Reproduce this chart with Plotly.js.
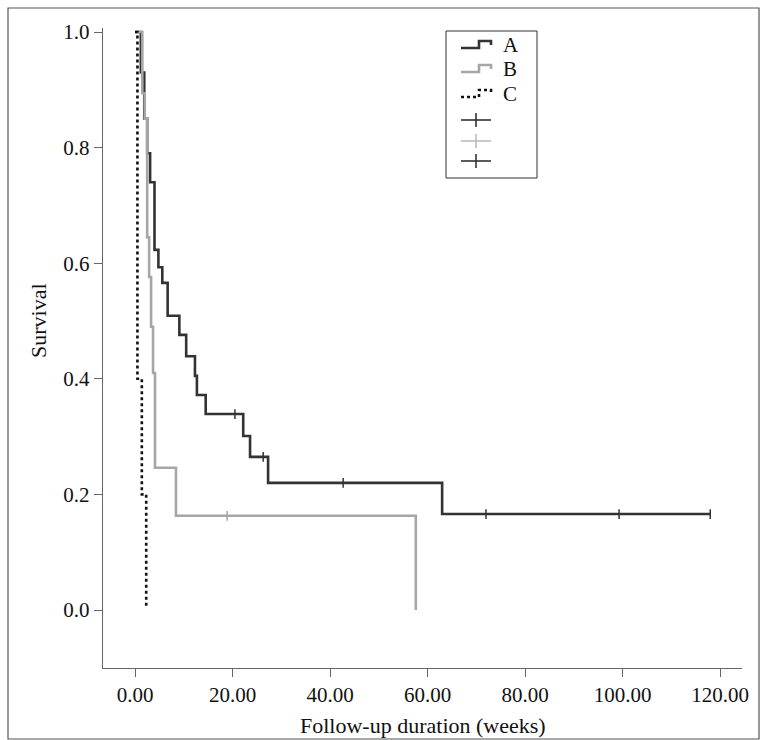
<!DOCTYPE html>
<html>
<head>
<meta charset="utf-8">
<script src="https://cdn.plot.ly/plotly-3.0.1.min.js"></script>
<style>
  html, body { margin: 0; padding: 0; background: #fff; }
  #chart { width: 766px; height: 740px; }
</style>
</head>
<body>
<div id="chart"></div>
<script>
// ---- Data ----
const weeksA = [0, 1.2, 1.9, 2.5, 3.1, 4.0, 4.8, 5.6, 6.7, 9.1, 10.5, 12.3, 12.7, 14.5, 22.2, 23.6, 27.3, 63.0, 118.0];
const survA  = [1.0, 0.93, 0.85, 0.79, 0.74, 0.623, 0.593, 0.566, 0.509, 0.476, 0.439, 0.405, 0.372, 0.339, 0.301, 0.265, 0.220, 0.166, 0.166];

const weeksB = [0, 1.5, 2.0, 2.5, 2.9, 3.3, 3.7, 4.1, 8.4, 57.6];
const survB  = [1.0, 0.894, 0.85, 0.645, 0.576, 0.49, 0.41, 0.246, 0.163, 0.0];

const weeksC = [0, 0.5, 1.4, 2.3];
const survC  = [1.0, 0.4, 0.2, 0.005];

const censorWeeksA = [20.5, 26.3, 42.7, 72.0, 99.3, 118.0];
const censorSurvA  = [0.339, 0.265, 0.220, 0.166, 0.166, 0.166];
const censorWeeksB = [18.9];
const censorSurvB  = [0.163];

const xTickVals = [0, 20, 40, 60, 80, 100, 120];
const xTickText = ["0.00", "20.00", "40.00", "60.00", "80.00", "100.00", "120.00"];
const yTickVals = [0, 0.2, 0.4, 0.6, 0.8, 1.0];
const yTickText = ["0.0", "0.2", "0.4", "0.6", "0.8", "1.0"];
const groupNames = ["A", "B", "C"];
const xTitle = "Follow-up duration (weeks)";
const yTitle = "Survival";

// ---- Styles ----
const colA = "#333333", colB = "#a6a6a6", colC = "#111111";
const FONT = "Liberation Serif, Times New Roman, serif";
const AX = "#666666";

const traces = [
  { x: weeksA, y: survA, mode: "lines", line: { shape: "hv", color: colA, width: 2.6 }, showlegend: false, hoverinfo: "skip" },
  { x: weeksB, y: survB, mode: "lines", line: { shape: "hv", color: colB, width: 2.6 }, showlegend: false, hoverinfo: "skip" },
  { x: weeksC, y: survC, mode: "lines", line: { shape: "hv", color: colC, width: 2.6, dash: "dot" }, showlegend: false, hoverinfo: "skip" },
  { x: censorWeeksA, y: censorSurvA, mode: "markers", marker: { symbol: "line-ns-open", size: 7, color: colA, line: { color: colA, width: 1.5 } }, showlegend: false, hoverinfo: "skip" },
  { x: censorWeeksB, y: censorSurvB, mode: "markers", marker: { symbol: "line-ns-open", size: 7, color: colB, line: { color: colB, width: 1.5 } }, showlegend: false, hoverinfo: "skip" }
];

// plot area in pixels
const L = 103, R = 742, T = 28, B = 668, W = 766, H = 740;
const px = x => (x - L) / (R - L);
const py = y => (B - y) / (B - T);

// ---- custom legend (drawn in paper coordinates) ----
const shapes = [];
shapes.push({ type: "rect", xref: "paper", yref: "paper", x0: px(8), x1: px(759), y0: py(739), y1: py(8), line: { color: "#555", width: 1.2 } });
shapes.push({ type: "rect", xref: "paper", yref: "paper", x0: px(446), x1: px(537), y0: py(178), y1: py(31), line: { color: "#333", width: 1 }, fillcolor: "rgba(0,0,0,0)" });

function stepPath(yc) {
  const a = px(461), b = px(479), c = px(491);
  const lo = py(yc + 3), hi = py(yc - 4), end = py(yc + 0);
  return `M ${a} ${lo} L ${b} ${lo} L ${b} ${hi} L ${c} ${hi} L ${c} ${end}`;
}
const rowsY = [45, 69, 94, 120, 141, 161];
const legendCols = [colA, colB, colC];
for (let i = 0; i < 3; i++) {
  shapes.push({ type: "path", xref: "paper", yref: "paper", path: stepPath(rowsY[i]),
    line: { color: legendCols[i], width: 2.6, dash: i === 2 ? "dot" : "solid" } });
}
const crossCols = [colA, "#bbbbbb", colA];
for (let i = 0; i < 3; i++) {
  const yc = rowsY[3 + i];
  shapes.push({ type: "line", xref: "paper", yref: "paper", x0: px(461), x1: px(491), y0: py(yc), y1: py(yc), line: { color: crossCols[i], width: 1.6 } });
  shapes.push({ type: "line", xref: "paper", yref: "paper", x0: px(476), x1: px(476), y0: py(yc - 7), y1: py(yc + 7), line: { color: crossCols[i], width: 1.6 } });
}
const annotations = groupNames.map((g, i) => ({
  xref: "paper", yref: "paper", x: px(501), y: py(rowsY[i]), xanchor: "left", yanchor: "middle",
  text: g, showarrow: false, font: { family: FONT, size: 21, color: "#111" }
}));
// axis titles placed like the reference (y title centred on the 0..1 span)
annotations.push({ xref: "paper", yref: "y", x: px(38), y: 0.5, xanchor: "center", yanchor: "middle", textangle: -90,
  text: yTitle, showarrow: false, font: { family: FONT, size: 22, color: "#111" } });
annotations.push({ xref: "paper", yref: "paper", x: 0.5, y: py(725), xanchor: "center", yanchor: "middle",
  text: xTitle, showarrow: false, font: { family: FONT, size: 22, color: "#111" } });

const layout = {
  width: W, height: H,
  margin: { l: L, r: W - R, t: T, b: H - B },
  paper_bgcolor: "#fff", plot_bgcolor: "#fff",
  showlegend: false,
  font: { family: FONT, color: "#111" },
  xaxis: {
    range: [(L - 135) / 4.875, (R - 135) / 4.875],
    tickvals: xTickVals, ticktext: xTickText,
    showgrid: false, zeroline: false, showline: true, linecolor: AX, linewidth: 1.2,
    ticks: "outside", ticklen: 8, tickcolor: AX, tickwidth: 1,
    tickfont: { family: FONT, size: 21, color: "#111" }
  },
  yaxis: {
    range: [-(B - 610) / 578, (610 - T) / 578],
    tickvals: yTickVals, ticktext: yTickText,
    showgrid: false, zeroline: false, showline: true, linecolor: AX, linewidth: 1.2,
    ticks: "outside", ticklen: 8, tickcolor: AX, tickwidth: 1,
    tickfont: { family: FONT, size: 21, color: "#111" }
  },
  shapes: shapes,
  annotations: annotations
};

Plotly.newPlot("chart", traces, layout, { displayModeBar: false, staticPlot: true });
</script>
</body>
</html>
